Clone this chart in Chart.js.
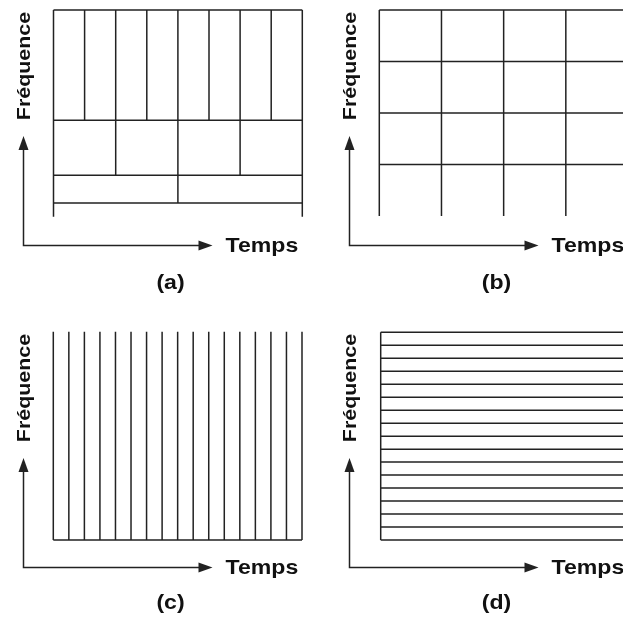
<!DOCTYPE html>
<html>
<head>
<meta charset="utf-8">
<script src="https://cdn.jsdelivr.net/npm/chart.js@4/dist/chart.umd.min.js"></script>
<style>
  html, body { margin: 0; padding: 0; background: #fff; overflow: hidden; width: 623px; height: 619px; }
  canvas.panel { position: absolute; }
</style>
</head>
<body>
<canvas id="pa" class="panel" width="326" height="322" style="left:0;top:0"></canvas>
<canvas id="pb" class="panel" width="326" height="322" style="left:326px;top:0"></canvas>
<canvas id="pc" class="panel" width="326" height="322" style="left:0;top:322px"></canvas>
<canvas id="pd" class="panel" width="326" height="322" style="left:326px;top:322px"></canvas>
<script>
// Labels
const panelLabels = ['(a)', '(b)', '(c)', '(d)'];
const timeLabel = 'Temps';
const freqLabel = 'Fréquence';

// (a) dyadic tiling: band edges along frequency, number of time cells in each band
const bandEdgesA = [0, 1, 3, 7, 15];
const cellsPerBandA = [1, 2, 4, 8];

// (b) uniform grid
const gridRowsB = 4;
const gridColsB = 4;

// (c) narrow time slices
const timeSlicesC = 16;

// (d) narrow frequency bands
const freqBandsD = 16;

const INK = '#222';

// Turn a list of segments into one line dataset, broken between segments
function segmentsToData(segs) {
  const data = [];
  segs.forEach(([a, b]) => {
    data.push({ x: a[0], y: a[1] });
    data.push({ x: b[0], y: b[1] });
    data.push({ x: b[0], y: null });
  });
  return data;
}

function tilingA() {
  const top = bandEdgesA[bandEdgesA.length - 1];
  const segs = [];
  bandEdgesA.slice(1).forEach(e => segs.push([[0, e], [1, e]]));
  segs.push([[0, 0], [0, top]]);
  segs.push([[1, 0], [1, top]]);
  cellsPerBandA.forEach((n, i) => {
    for (let k = 1; k < n; k++) {
      segs.push([[k / n, bandEdgesA[i]], [k / n, bandEdgesA[i + 1]]]);
    }
  });
  return { segs, xMax: 1, yMax: top };
}

function tilingB() {
  const segs = [];
  for (let r = 1; r <= gridRowsB; r++) segs.push([[0, r], [gridColsB, r]]);
  for (let c = 0; c <= gridColsB; c++) segs.push([[c, 0], [c, gridRowsB]]);
  return { segs, xMax: gridColsB, yMax: gridRowsB };
}

function tilingC() {
  const segs = [];
  for (let c = 0; c <= timeSlicesC; c++) segs.push([[c, 0], [c, 1]]);
  segs.push([[0, 0], [timeSlicesC, 0]]);
  return { segs, xMax: timeSlicesC, yMax: 1 };
}

function tilingD() {
  const segs = [];
  for (let r = 0; r <= freqBandsD; r++) segs.push([[0, r], [1, r]]);
  segs.push([[0, 0], [0, freqBandsD]]);
  segs.push([[1, 0], [1, freqBandsD]]);
  return { segs, xMax: 1, yMax: freqBandsD };
}

// Time/frequency axes with arrowheads, plus the text labels
const axesPlugin = {
  id: 'tfAxes',
  afterDraw(chart, args, opts) {
    const ctx = chart.ctx;
    const ox = 23.5, oy = 245.5, upTip = 136, rightTip = 212.5;
    const head = 14, half = 5;
    ctx.save();
    ctx.strokeStyle = INK;
    ctx.fillStyle = INK;
    ctx.lineWidth = 1.5;
    ctx.beginPath();
    ctx.moveTo(ox, oy);
    ctx.lineTo(ox, upTip + head - 1);
    ctx.moveTo(ox - 0.75, oy);
    ctx.lineTo(rightTip - head + 1, oy);
    ctx.stroke();
    ctx.beginPath();
    ctx.moveTo(ox, upTip);
    ctx.lineTo(ox - half, upTip + head);
    ctx.lineTo(ox + half, upTip + head);
    ctx.closePath();
    ctx.fill();
    ctx.beginPath();
    ctx.moveTo(rightTip, oy);
    ctx.lineTo(rightTip - head, oy - half);
    ctx.lineTo(rightTip - head, oy + half);
    ctx.closePath();
    ctx.fill();

    ctx.fillStyle = '#111';
    ctx.font = 'bold 21px "Liberation Sans", Arial, sans-serif';
    ctx.textBaseline = 'alphabetic';

    ctx.save();
    ctx.translate(225.5, 252);
    ctx.scale(1.1, 1);
    ctx.textAlign = 'left';
    ctx.fillText(timeLabel, 0, 0);
    ctx.restore();

    ctx.save();
    ctx.translate(170.5, opts.labelY);
    ctx.scale(1.1, 1);
    ctx.textAlign = 'center';
    ctx.fillText(opts.label, 0, 0);
    ctx.restore();

    ctx.save();
    ctx.translate(29.5, 66);
    ctx.rotate(-Math.PI / 2);
    ctx.scale(1.19, 1);
    ctx.font = 'bold 18px "Liberation Sans", Arial, sans-serif';
    ctx.textAlign = 'center';
    ctx.fillText(freqLabel, 0, 0);
    ctx.restore();

    ctx.restore();
  }
};

function makePanel(id, tiling, padding, label, labelY) {
  new Chart(document.getElementById(id), {
    type: 'line',
    data: {
      datasets: [{
        data: segmentsToData(tiling.segs),
        borderColor: INK,
        borderWidth: 1.5,
        pointRadius: 0,
        tension: 0,
        spanGaps: false,
        clip: false
      }]
    },
    options: {
      responsive: false,
      animation: false,
      devicePixelRatio: 1,
      layout: { padding },
      scales: {
        x: { type: 'linear', min: 0, max: tiling.xMax, display: false },
        y: { type: 'linear', min: 0, max: tiling.yMax, display: false }
      },
      plugins: {
        legend: { display: false },
        tooltip: { enabled: false },
        tfAxes: { label, labelY }
      }
    },
    plugins: [axesPlugin]
  });
}

makePanel('pa', tilingA(), { left: 53.5, top: 10, right: 23.7, bottom: 105.3 }, panelLabels[0], 289);
makePanel('pb', tilingB(), { left: 53.3, top: 10, right: 24, bottom: 106 }, panelLabels[1], 289);
makePanel('pc', tilingC(), { left: 53.3, top: 9.7, right: 24, bottom: 104 }, panelLabels[2], 287);
makePanel('pd', tilingD(), { left: 54.7, top: 10.3, right: 22.3, bottom: 104 }, panelLabels[3], 287);
</script>
</body>
</html>
